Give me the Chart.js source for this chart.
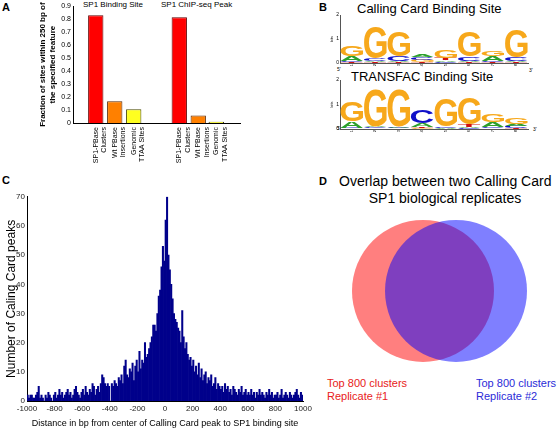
<!DOCTYPE html>
<html lang="en">
<head>
<meta charset="UTF-8">
<title>SP1 calling cards</title>
<script src="https://cdn.jsdelivr.net/npm/chart.js"></script>
<style>
  body { margin: 0; width: 558px; height: 430px; position: relative; background: #fff; overflow: hidden;
         font-family: "Liberation Sans", Arial, sans-serif; }
  canvas, .t { position: absolute; }
  .t { white-space: nowrap; line-height: 1; }
  .panel { font-weight: bold; font-size: 11px; }
</style>
</head>
<body>
<div class="t panel" style="left:2px;top:2px">A</div>
<div class="t panel" style="left:319px;top:2px">B</div>
<div class="t panel" style="left:2px;top:175px">C</div>
<div class="t panel" style="left:319px;top:176px">D</div>

<div class="t" style="left:83px;top:1px;font-size:8px">SP1 Binding Site</div>
<div class="t" style="left:161px;top:1px;font-size:8px">SP1 ChIP-seq Peak</div>

<div class="t" style="left:357px;top:2px;font-size:13px">Calling Card Binding Site</div>
<div class="t" style="left:351px;top:70px;font-size:13px">TRANSFAC Binding Site</div>
<div class="t" style="left:337px;top:67px;font-size:5px">5'</div>
<div class="t" style="left:529px;top:68px;font-size:5px">3'</div>
<div class="t" style="left:337px;top:126px;font-size:5px">5'</div>
<div class="t" style="left:533px;top:127px;font-size:5px">3'</div>

<div class="t" style="left:339px;top:173px;width:212px;text-align:center;font-size:14px;line-height:17px">Overlap between two Calling Card<br>SP1 biological replicates</div>
<div class="t" style="left:327px;top:377px;font-size:11px;line-height:13px;color:#e82020">Top 800 clusters<br>Replicate #1</div>
<div class="t" style="left:476px;top:377px;font-size:11px;line-height:13px;color:#2a2ad8">Top 800 clusters<br>Replicate #2</div>

<canvas id="barA" width="250" height="200" style="left:0;top:0"></canvas>
<canvas id="logo1" width="268" height="75" style="left:290px;top:0"></canvas>
<canvas id="logo2" width="268" height="75" style="left:290px;top:66px"></canvas>
<canvas id="histC" width="320" height="240" style="left:0;top:190px"></canvas>
<canvas id="vennD" width="200" height="155" style="left:340px;top:215px"></canvas>

<script>
// ---- panel A: fraction of sites within 250 bp ----
const fractionLabels = [
  ['SP1-PBase', 'Clusters'], ['Wt PBase', 'Insertions'], ['Genomic', 'TTAA Sites'],
  ['SP1-PBase', 'Clusters'], ['Wt PBase', 'Insertions'], ['Genomic', 'TTAA Sites']
];
const fractionPos = [1.2, 2.2, 3.2, 5.6, 6.6, 7.55];
const fractionVals = [0.83, 0.168, 0.105, 0.815, 0.057, 0.01];
const fractionFill = ['#ff0000', '#ff8000', '#ffff20', '#ff0000', '#ff8000', '#ffff20'];
const fractionEdge = ['#600000', '#5a2600', '#4a4a00', '#600000', '#5a2600', '#202000'];

// ---- panel B: sequence logos (bits per letter at positions 1..8) ----
const logoPositions = [1, 2, 3, 4, 5, 6, 7, 8];
const callingCardLogo = {
  G: [0.45, 1.3, 1.05, 0.08, 0.35, 1.05, 0.22, 1.15],
  C: [0.05, 0.1, 0.2, 0.12, 0.06, 0.18, 0.06, 0.15],
  A: [0.2, 0.06, 0.05, 0.12, 0.06, 0.05, 0.2, 0.04],
  T: [0.03, 0.03, 0.03, 0.03, 0.08, 0.03, 0.03, 0.03]
};
const transfacLogo = {
  G: [0.8, 1.5, 1.5, 0.05, 1.1, 1.05, 0.3, 0.28],
  C: [0.04, 0.05, 0.04, 0.55, 0.05, 0.04, 0.05, 0.08],
  A: [0.25, 0.05, 0.05, 0.15, 0.04, 0.05, 0.2, 0.1],
  T: [0.02, 0.02, 0.02, 0.05, 0.02, 0.08, 0.02, 0.03]
};
const letterColors = { G: '#f7a81b', C: '#1010c8', A: '#2ca02c', T: '#d01010' };

// ---- panel C: distance histogram, 10 bp bins from -1000 to 1000 ----
const binStart = -1000;
const binWidth = 10;
const peakCounts = [
  2,1,2,2,1,1,2,3,5,1, 2,1,0,2,1,3,2,1,0,2,
  3,1,2,4,2,3,1,2,3,4, 2,3,1,2,4,5,3,2,1,3,
  4,2,5,3,2,4,3,6,5,2, 4,5,3,6,9,8,6,5,6,5,
  0,6,5,7,6,5,8,7,9,6, 12,14,9,8,11,10,13,7,12,14,
  10,17,11,14,13,20,15,16,18,20, 22,26,26,24,30,36,38,46,53,48,
  62,70,50,45,40,35,30,28,27,25, 24,20,31,22,18,20,16,14,15,12,
  14,10,12,9,13,8,11,7,9,10, 6,8,7,9,5,6,8,4,6,5,
  4,5,3,6,4,5,3,4,2,5, 4,3,2,4,3,5,2,3,4,2,
  3,2,4,2,3,1,3,2,4,2, 3,2,1,3,2,4,2,3,1,2,
  2,3,1,2,4,1,2,3,2,1, 3,2,1,2,3,4,2,1,3,2
];

// ---- panel D: Venn of two replicates ----
const vennX = [0, 0.465];
const vennY = [0, 0];
const vennR = [1, 1];
const vennColors = ['rgba(255,0,0,0.5)', 'rgba(0,0,255,0.5)'];

Chart.defaults.font.family = '"Liberation Sans", Arial, sans-serif';
Chart.defaults.color = '#000';
Chart.defaults.animation = false;
Chart.defaults.plugins.legend.display = false;
Chart.defaults.plugins.tooltip.enabled = false;

const noGrid = { display: false, tickLength: 0 };

// A
new Chart(document.getElementById('barA'), {
  type: 'bar',
  data: {
    datasets: [{
      data: fractionPos.map((x, i) => ({ x: x, y: fractionVals[i] })),
      backgroundColor: fractionFill,
      borderColor: fractionEdge,
      borderWidth: 1,
      barPercentage: 0.85,
      categoryPercentage: 1
    }]
  },
  options: {
    responsive: false,
    layout: { padding: { left: 36, right: 10, top: 1 } },
    scales: {
      x: {
        type: 'linear', min: 0, max: 8.8, offset: false,
        grid: noGrid, border: { color: '#000' },
        afterBuildTicks: a => { a.ticks = fractionPos.map(v => ({ value: v })); },
        ticks: { autoSkip: false, minRotation: 90, maxRotation: 90, padding: 4,
                 font: { size: 7 }, callback: (v, i) => fractionLabels[i] },
        afterFit: s => { s.height = 77; }
      },
      y: {
        min: 0, max: 0.9,
        grid: noGrid, border: { color: '#000' },
        ticks: { stepSize: 0.1, padding: 2, font: { size: 7 },
                 callback: v => v === 0 ? '0' : v.toFixed(1) },
        title: { display: true, text: ['Fraction of sites within 250 bp of', 'the specified feature'],
                 font: { size: 8, weight: 'bold', lineHeight: 1.25 }, padding: { top: 1.5 } },
        afterFit: s => { s.width = 37; }
      }
    }
  }
});

// B: letters drawn stacked on the chart's own scales
function drawLetter(ctx, ch, x, y, w, h, color) {
  ctx.save();
  ctx.font = 'bold 100px "Liberation Sans", Arial, sans-serif';
  const m = ctx.measureText(ch);
  const gw = m.actualBoundingBoxLeft + m.actualBoundingBoxRight;
  const gh = m.actualBoundingBoxAscent + m.actualBoundingBoxDescent;
  ctx.translate(x, y);
  ctx.scale(w / gw, h / gh);
  ctx.fillStyle = color;
  ctx.fillText(ch, m.actualBoundingBoxLeft, m.actualBoundingBoxAscent);
  ctx.restore();
}

const logoLetters = {
  id: 'logoLetters',
  afterDatasetsDraw(chart, args, opts) {
    const { ctx, scales: { x, y } } = chart;
    const stacks = opts.stacks;
    logoPositions.forEach((pos, p) => {
      const col = Object.keys(stacks).map(l => ({ l: l, h: stacks[l][p] })).sort((a, b) => a.h - b.h);
      const x0 = x.getPixelForValue(pos - 0.48);
      const x1 = x.getPixelForValue(pos + 0.48);
      let base = 0;
      col.forEach(({ l, h }) => {
        const yb = y.getPixelForValue(base);
        const yt = y.getPixelForValue(base + h);
        base += h;
        if (yb - yt < 0.5) return;
        drawLetter(ctx, l, x0, yt, x1 - x0, yb - yt, letterColors[l]);
      });
    });
  }
};

function logoChart(id, stacks, padTop) {
  return new Chart(document.getElementById(id), {
    type: 'scatter',
    data: { datasets: [{ data: [] }] },
    plugins: [logoLetters],
    options: {
      responsive: false,
      layout: { padding: { left: 36, right: 30, top: padTop } },
      plugins: { logoLetters: { stacks: stacks } },
      scales: {
        x: {
          type: 'linear', min: 0.5, max: 8.5,
          grid: noGrid, border: { color: '#555' },
          afterBuildTicks: a => { a.ticks = logoPositions.map(v => ({ value: v })); },
          ticks: { minRotation: 90, maxRotation: 90, padding: 1, font: { size: 4 } },
          afterFit: s => { s.height = 12; }
        },
        y: {
          min: 0, max: 2,
          grid: noGrid, border: { color: '#555' },
          ticks: { stepSize: 1, padding: 1, font: { size: 5 } },
          title: { display: true, text: 'bits', font: { size: 4 }, padding: { top: 3 } },
          afterFit: s => { s.width = 14; }
        }
      }
    }
  });
}
logoChart('logo1', callingCardLogo, 15);
logoChart('logo2', transfacLogo, 14);

// C
new Chart(document.getElementById('histC'), {
  type: 'bar',
  data: {
    datasets: [{
      data: peakCounts.map((c, i) => ({ x: binStart + binWidth * (i + 0.5), y: c })),
      backgroundColor: '#00008b',
      borderWidth: 0,
      barPercentage: 1,
      categoryPercentage: 1
    }]
  },
  options: {
    responsive: false,
    layout: { padding: { left: 0, right: 17, top: 3 } },
    scales: {
      x: {
        type: 'linear', min: -1000, max: 1000, offset: false,
        grid: noGrid, border: { color: '#000' },
        ticks: { stepSize: 200, autoSkip: false, maxRotation: 0, padding: 3, font: { size: 8 }, color: '#222',
                 callback: v => String(v) },
        title: { display: true, text: 'Distance in bp from center of Calling Card peak to SP1 binding site',
                 font: { size: 9 }, padding: { bottom: 1.5 } },
        afterFit: s => { s.height = 29; }
      },
      y: {
        min: 0, max: 70,
        grid: noGrid, border: { color: '#000' },
        ticks: { stepSize: 10, padding: 2, font: { size: 8 }, color: '#222' },
        title: { display: true, text: 'Number of Caling Card peaks', font: { size: 12 }, padding: { top: 4.5 } },
        afterFit: s => { s.width = 27; }
      }
    }
  }
});

// D
new Chart(document.getElementById('vennD'), {
  type: 'scatter',
  data: {
    datasets: vennX.map((cx, i) => ({
      data: [{ x: cx, y: vennY[i] }],
      order: vennX.length - i,
      backgroundColor: vennColors[i],
      borderWidth: 0,
      pointRadius: ctx => {
        const s = ctx.chart.scales.x;
        return s.getPixelForValue(vennR[i]) - s.getPixelForValue(0);
      },
      clip: false
    }))
  },
  options: {
    responsive: false,
    layout: { padding: 0 },
    scales: {
      x: { display: false, min: -1.169, max: 1.648 },
      y: { display: false, min: -1.113, max: 1.070 }
    }
  }
});
</script>
</body>
</html>
